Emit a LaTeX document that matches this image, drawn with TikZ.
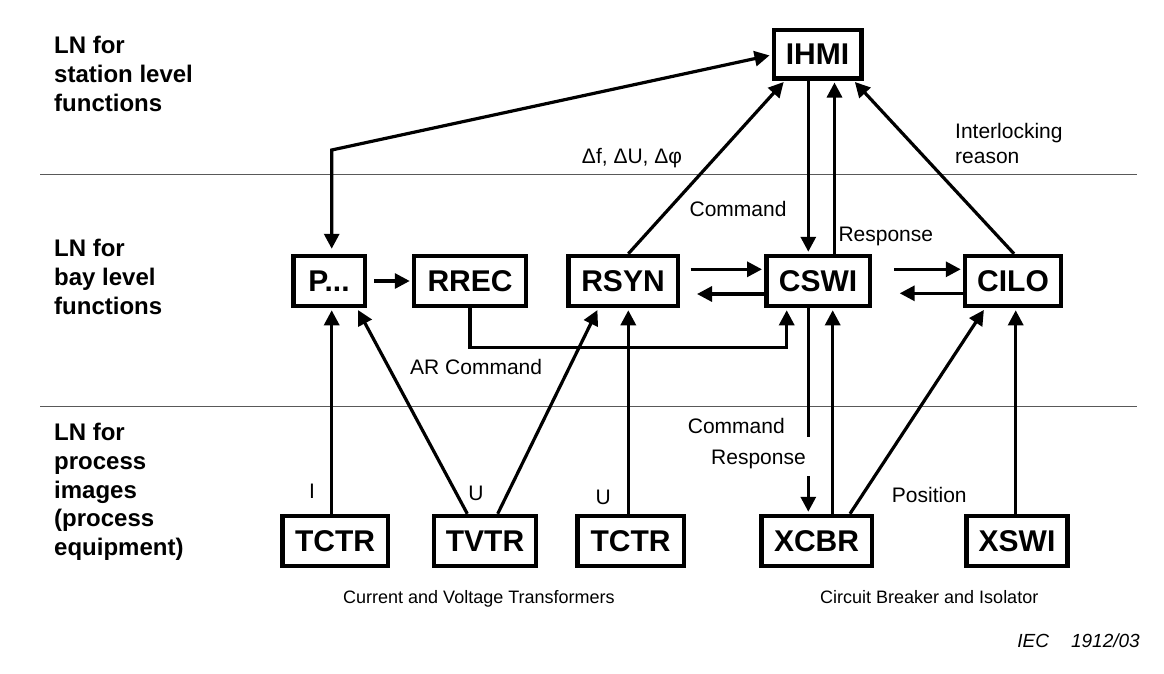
\documentclass[tikz,border=0pt]{standalone}
\usepackage{fontspec}
\setmainfont{Liberation Sans}
\usetikzlibrary{arrows.meta,positioning}

\tikzset{
  lnbox/.style={draw, line width=4.5pt, inner sep=0pt, minimum height=50pt,
    font=\fontsize{30}{32}\selectfont\bfseries},
  link/.style={line width=3.2pt, -{Triangle[length=15pt,width=15pt]}, shorten >=2pt},
  note/.style={font=\fontsize{21}{25}\selectfont, inner sep=0pt},
  level/.style={font=\fontsize{24}{28.8}\selectfont\bfseries, align=left, inner sep=0pt},
}

\begin{document}
\begin{tikzpicture}[x=1pt,y=-1pt]
  \useasboundingbox (0,0) rectangle (1164,673);
  % level separators
  \draw[line width=1.5pt, black!65] (40,174.3) -- (1137,174.3);
  \draw[line width=1.5pt, black!65] (40,406.7) -- (1137,406.7);
  \node[level, anchor=base west] (lvlstation) at (54,111.4) {LN for\\station level\\functions};
  \node[level, anchor=base west] (lvlbay) at (54,314.3) {LN for\\bay level\\functions};
  \node[level, anchor=base west] (lvlproc) at (54,555.6) {LN for\\process\\images\\(process\\equipment)};

  % logical nodes
  \node[lnbox, minimum width=87.5pt, minimum height=48.5pt] (IHMI) at (817.5,54) {IHMI};
  \node[lnbox, minimum width=71.5pt] (P) at (329,281) {P...};
  \node[lnbox, minimum width=112pt] (RREC) at (470,281) {RREC};
  \node[lnbox, minimum width=109.5pt] (RSYN) at (623,281) {RSYN};
  \node[lnbox, minimum width=103.5pt] (CSWI) at (818,281) {CSWI};
  \node[lnbox, minimum width=96pt] (CILO) at (1013,281) {CILO};
  \node[lnbox, minimum width=105.5pt] (TCTRa) at (335,541) {TCTR};
  \node[lnbox, minimum width=102pt] (TVTR) at (485,541) {TVTR};
  \node[lnbox, minimum width=106.5pt] (TCTRb) at (630.5,541) {TCTR};
  \node[lnbox, minimum width=110.5pt] (XCBR) at (816.5,541) {XCBR};
  \node[lnbox, minimum width=101pt] (XSWI) at (1017,541) {XSWI};

  % station level links
  \coordinate (pbend) at (331.7,150);
  \draw[link, {Triangle[length=15pt,width=15pt]}-{Triangle[length=15pt,width=15pt]}, shorten <=5pt] ([xshift=2.7pt]P.north) -- (pbend) -- ([yshift=-1pt]IHMI.west);
  \draw[link] ([xshift=5.3pt]RSYN.north) -- ([xshift=-32.5pt]IHMI.south);
  \draw[link] ([xshift=-9.2pt]IHMI.south) -- ([xshift=-9.2pt]IHMI.south |- CSWI.north);
  \draw[link] ([xshift=16.5pt]CSWI.north) -- ([xshift=16.5pt]CSWI.north |- IHMI.south);
  \draw[link] ([xshift=1pt]CILO.north) -- ([xshift=36pt]IHMI.south);

  % bay level links
  \draw[link] ([xshift=7pt]P.east) -- (RREC.west);
  \draw[link] ([xshift=10.5pt,yshift=11.7pt]RSYN.east) -- ([yshift=11.7pt]CSWI.west);
  \draw[link] ([yshift=-13pt]CSWI.west) -- ([xshift=15pt,yshift=-13pt]RSYN.east);
  \draw[link] ([xshift=22pt,yshift=11.7pt]CSWI.east) -- ([yshift=11.7pt]CILO.west);
  \draw[link] ([yshift=-12.3pt]CILO.west) -- ([xshift=25.7pt,yshift=-12.3pt]CSWI.east);
  \coordinate (arbend) at (786.7,347.3);
  \draw[link] (RREC.south) |- (arbend) -- ([xshift=-31.3pt]CSWI.south);

  % process level links
  \draw[link] ([xshift=-3.3pt]TCTRa.north) -- ([xshift=-3.3pt]TCTRa.north |- P.south);
  \draw[link] ([xshift=-17.7pt]TVTR.north) -- ([xshift=28pt]P.south);
  \draw[link] ([xshift=12.7pt]TVTR.north) -- ([xshift=-24.7pt]RSYN.south);
  \draw[link] ([xshift=-2.2pt]TCTRb.north) -- ([xshift=-2.2pt]TCTRb.north |- RSYN.south);
  \coordinate (cmdstop) at (808.3,437.3);
  \coordinate (cmdgo) at (808.3,476);
  \draw[line width=3.2pt] ([xshift=-9.7pt]CSWI.south) -- (cmdstop);
  \draw[link] (cmdgo) -- (cmdgo |- XCBR.north);
  \draw[link] ([xshift=16.2pt]XCBR.north) -- ([xshift=16.2pt]XCBR.north |- CSWI.south);
  \draw[link] ([xshift=33.5pt]XCBR.north) -- ([xshift=-28pt]CILO.south);
  \draw[link] ([xshift=-1.3pt]XSWI.north) -- ([xshift=-1.3pt]XSWI.north |- CILO.south);

  % labels
  \node[note, anchor=base] (dsync) at (632,163) {Δf, ΔU, Δφ};
  \node[note, anchor=base east] (cmdup) at (786.7,216) {Command};
  \node[note, anchor=base west] (resup) at (838.3,241.7) {Response};
  \node[note, anchor=base west, align=left] (ilock) at (955,163.3) {Interlocking\\reason};
  \node[note, anchor=base west] (arcmd) at (410,374) {AR Command};
  \node[note, anchor=base west] (cmddown) at (687.7,433.3) {Command};
  \node[note, anchor=base west] (resdown) at (711,464) {Response};
  \node[note, anchor=base] (ilbl) at (312,498.3) {I};
  \node[note, anchor=base] (ulbla) at (476,500) {U};
  \node[note, anchor=base] (ulblb) at (603.3,504.3) {U};
  \node[note, anchor=base west] (poslbl) at (891.7,502.7) {Position};
  \node[anchor=base west, inner sep=0pt, font=\fontsize{18}{20}\selectfont] (ctvt) at (343,603) {Current and Voltage Transformers};
  \node[anchor=base west, inner sep=0pt, font=\fontsize{18}{20}\selectfont] (cbis) at (820,603) {Circuit Breaker and Isolator};
  \node[anchor=base east, inner sep=0pt, font=\fontsize{19}{20}\selectfont\itshape] (iec) at (1140,647) {IEC\hspace{22pt}1912/03};
\end{tikzpicture}
\end{document}
